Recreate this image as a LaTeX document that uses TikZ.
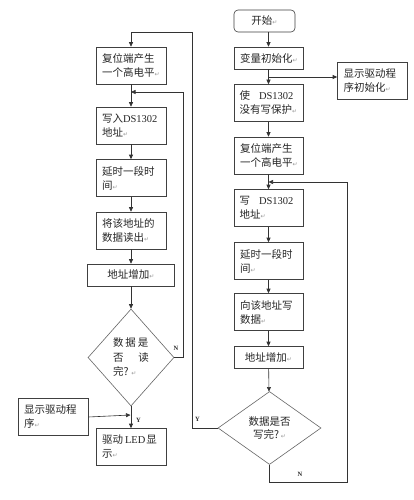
\documentclass[tikz,border=0pt]{standalone}
\usepackage{fontspec}
\setmainfont{Noto Sans CJK SC}
\newfontfamily\latf{Liberation Serif}
\newfontfamily\symf{DejaVu Sans}
\usetikzlibrary{arrows.meta,shapes.geometric}
\newcommand{\lat}[1]{{\latf #1}}
\newcommand{\retmark}{{\symf\fontsize{6}{6}\selectfont\color{black!40}↵}}
\tikzset{
  bx/.style={rectangle, draw=black!75, line width=0.6pt, fill=white,
    minimum width=70pt, text width=58pt, inner xsep=6pt, inner ysep=1pt,
    minimum height=37pt, align=left, text=black!85,
    font=\fontsize{10.5}{14}\selectfont},
  sbx/.style={bx, minimum height=22pt, align=center},
  dm/.style={diamond, draw=black!60, line width=0.6pt, fill=white, inner sep=0pt,
    text=black!85, font=\fontsize{10.5}{14.5}\selectfont},
  ar/.style={draw=black!80, line width=0.6pt, -{Triangle[length=4.5pt,width=4pt]}},
  ln/.style={draw=black!80, line width=0.6pt},
  lab/.style={inner sep=0pt, text=black!85, font=\latf\bfseries\fontsize{6.5}{7}\selectfont},
}
\begin{document}
\begin{tikzpicture}[x=1pt,y=-1pt]
\fill[white] (0,0) rectangle (414,500);
\useasboundingbox (0,0) rectangle (414,500);

% ---------- left column ----------
\node[bx] (L1) at (131,65.5) {复位端产生\\一个高电平\retmark};
\node[bx] (L2) at (131,125.5) {写入\lat{DS1302}\\地址\retmark};
\node[bx] (L3) at (131,178) {延时一段时\\间\retmark};
\node[bx] (L4) at (131,230.5) {将该地址的\\数据读出\retmark};
\node[sbx, minimum width=87pt, text width=75pt] (L5) at (131,275) {地址增加\retmark};
\node[dm, minimum width=86pt, minimum height=97pt, align=left] (LD) at (131,357.5)
  {数\hspace{2pt}据\hspace{2pt}是\\否\hspace{15pt}读\\完?\hspace{3pt}\retmark};
\node[bx] (LS) at (53,417) {显示驱动程\\序\retmark};
\node[bx] (LE) at (131,447) {驱动\hspace{2pt}\lat{LED}\hspace{1pt}显\\示\retmark};

% ---------- right column ----------
\node[sbx, rounded corners=4pt, minimum width=61pt, text width=49pt] (R0) at (264.5,21) {开始\retmark};
\node[sbx, minimum width=69pt, text width=57pt] (R1) at (268.5,58) {变量初始化\retmark};
\node[bx] (RS) at (372.5,80.5) {显示驱动程\\序初始化\retmark};
\node[bx, minimum width=69pt, text width=58pt, inner xsep=5.5pt] (R2) at (268.5,103) {使\hspace{9pt}\lat{DS1302}\\没有写保护\retmark};
\node[bx, minimum width=69pt, text width=57pt] (R3) at (268.5,155.5) {复位端产生\\一个高电平\retmark};
\node[bx, minimum width=69pt, text width=58pt, inner xsep=5.5pt] (R4) at (268.5,208) {写\hspace{9pt}\lat{DS1302}\\地址\retmark};
\node[bx, minimum width=69pt, text width=57pt] (R5) at (268.5,261) {延时一段时\\间\retmark};
\node[bx, minimum width=69pt, text width=57pt] (R6) at (268.5,312) {向该地址写\\数据\retmark};
\node[sbx, minimum width=69pt, text width=57pt] (R7) at (268.5,357.5) {地址增加\retmark};
\node[dm, minimum width=103pt, minimum height=73pt, align=center, font=\fontsize{10.5}{13}\selectfont] (RD) at (269.5,428)
  {数据是否\\写完?\hspace{2pt}\retmark};

% ---------- helper coordinates ----------
\coordinate (b1) at (268.5,77);
\coordinate (rN) at (347,482);
\coordinate (rJ) at (268.5,182);
\coordinate (yT) at (192,32);
\coordinate (nR) at (183,92);
\coordinate (nJ) at (131,92);
\coordinate (sJ) at (130.5,415);

% ---------- right connectors ----------
\draw[ar] (R1.north |- R0.south) -- (R1.north);
\draw[ar] (R1) -- (R2);
\draw[ar] (b1) -- (RS.west |- b1);
\draw[ar] (R2) -- (R3);
\draw[ar] (R3) -- (R4);
\draw[ar] (R4) -- (R5);
\draw[ar] (R5) -- (R6);
\draw[ar] (R6) -- (R7);
\draw[ar] (R7) -- (RD);
\draw[ar] (RD.south) |- (rN) |- (rJ);
\draw[ar] (RD.west) -| (yT) -| (L1.north);

% ---------- left connectors ----------
\draw[ar] (L1) -- (L2);
\draw[ar] (LD.east) -| (nR) -- (nJ);
\draw[ar] (L2) -- (L3);
\draw[ar] (L3) -- (L4);
\draw[ar] (L4) -- (L5);
\draw[ar] (L5) -- (LD);
\draw[ar] (LD.south) -- (LE.north);
\draw[ar] (LS.east) -- (sJ);

% ---------- labels ----------
\node[lab] (lN1) at (176,348) {N};
\node[lab] (lY1) at (138.5,420) {Y};
\node[lab] (lY2) at (197.5,419) {Y};
\node[lab] (lN2) at (300,474) {N};
\end{tikzpicture}
\end{document}
